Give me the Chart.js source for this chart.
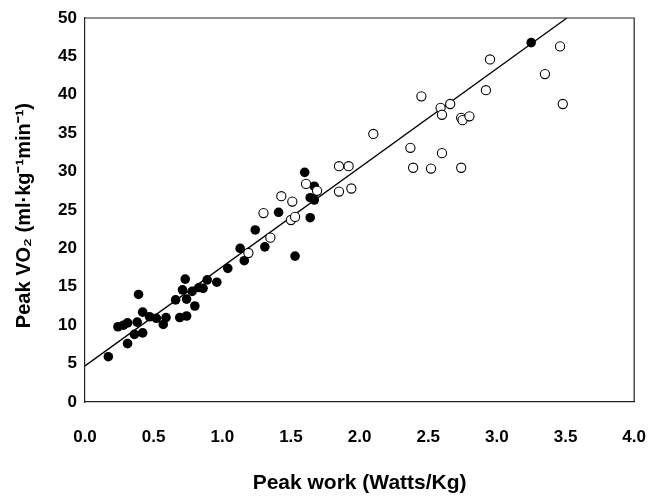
<!DOCTYPE html>
<html>
<head>
<meta charset="utf-8">
<script src="https://cdn.jsdelivr.net/npm/chart.js@4.4.1/dist/chart.umd.min.js"></script>
<style>
html,body{margin:0;padding:0;background:#fff;}
#wrap{width:665px;height:496px;}
</style>
</head>
<body>
<div id="wrap"><canvas id="c" width="665" height="496"></canvas></div>
<script>
const filledX = [0.17,0.24,0.28,0.31,0.31,0.36,0.38,0.39,0.42,0.42,0.47,0.52,0.57,0.59,0.66,0.69,0.74,0.73,0.71,0.74,0.78,0.80,0.83,0.86,0.89,0.96,1.04,1.13,1.16,1.24,1.31,1.53,1.41,1.60,1.67,1.64,1.67,1.64,3.25];
const filledY = [5.9,9.8,10.0,10.3,7.6,8.8,10.4,14.0,9.0,11.7,11.1,10.9,10.1,11.0,13.3,11.0,11.2,16.0,14.6,13.4,14.4,12.5,14.9,14.8,15.9,15.6,17.4,20.0,18.4,22.4,20.2,19.0,24.7,29.9,28.1,26.6,26.3,24.0,46.8];
const openX = [1.19,1.35,1.30,1.43,1.51,1.50,1.53,1.61,1.69,1.85,1.92,1.85,1.94,2.10,2.37,2.39,2.52,2.60,2.74,2.45,2.59,2.60,2.66,2.74,2.75,2.80,2.92,2.95,3.35,3.46,3.48];
const openY = [19.4,21.4,24.6,26.8,26.1,23.7,24.1,28.4,27.5,30.7,30.7,27.4,27.8,34.9,33.1,30.5,30.4,32.4,30.5,39.8,38.3,37.4,38.8,37.0,36.7,37.2,40.6,44.6,42.7,46.3,38.8];
const fitX = [0, 3.51];
const fitY = [4.7, 50];
const xTicks = [0,0.5,1.0,1.5,2.0,2.5,3.0,3.5,4.0];
const yTicks = [0,5,10,15,20,25,30,35,40,45,50];

const pts = (xs, ys) => xs.map((x, i) => ({x: x, y: ys[i]}));
const FONT = "'Liberation Sans', Arial, sans-serif";

const framePlugin = {
  id: 'frame',
  afterDatasetsDraw(chart) {
    const {ctx, chartArea: a} = chart;
    ctx.save();
    ctx.strokeStyle = '#222';
    ctx.lineWidth = 1.2;
    ctx.beginPath();
    ctx.moveTo(a.left, a.top); ctx.lineTo(a.right, a.top); ctx.lineTo(a.right, a.bottom);
    ctx.stroke();
    ctx.restore();
  }
};

new Chart(document.getElementById('c'), {
  type: 'scatter',
  data: {
    datasets: [
      {
        label: 'open',
        data: pts(openX, openY),
        pointRadius: 4.6,
        pointBackgroundColor: '#fff',
        pointBorderColor: '#000',
        pointBorderWidth: 1.1
      },
      {
        label: 'fit',
        type: 'line',
        data: pts(fitX, fitY),
        borderColor: '#000',
        borderWidth: 1.3,
        pointRadius: 0,
        fill: false
      },
      {
        label: 'filled',
        data: pts(filledX, filledY),
        pointRadius: 4.8,
        pointBackgroundColor: '#000',
        pointBorderColor: '#000',
        pointBorderWidth: 0
      }
    ]
  },
  options: {
    responsive: false,
    animation: false,
    layout: {padding: {left: 0, right: 27, top: 18, bottom: 0}},
    plugins: {legend: {display: false}, tooltip: {enabled: false}},
    scales: {
      x: {
        type: 'linear', min: 0, max: 4,
        afterBuildTicks: s => { s.ticks = xTicks.map(v => ({value: v})); },
        afterFit: s => { s.height = 94; },
        grid: {display: false, drawOnChartArea: false, drawTicks: true, tickLength: 6, tickColor: '#222'},
        border: {display: true, color: '#222', width: 1.2},
        ticks: {
          color: '#000', padding: 19,
          font: {family: FONT, size: 17, weight: 'bold'},
          callback: v => Number(v).toFixed(1)
        },
        title: {
          display: true, text: 'Peak work (Watts/Kg)', color: '#000',
          font: {family: FONT, size: 21, weight: 'bold'},
          padding: {top: 0, bottom: 0}
        }
      },
      y: {
        type: 'linear', min: 0, max: 50,
        afterBuildTicks: s => { s.ticks = yTicks.map(v => ({value: v})); },
        afterFit: s => { s.width = 85; },
        grid: {display: false, drawOnChartArea: false, drawTicks: true, tickLength: 5, tickColor: '#222'},
        border: {display: true, color: '#222', width: 1.2},
        ticks: {
          color: '#000', padding: 3,
          font: {family: FONT, size: 17, weight: 'bold'},
          callback: v => String(v)
        },
        title: {
          display: true, text: 'Peak VO\u2082 (ml\u00B7kg\u207B\u00B9min\u207B\u00B9)\u00A0\u00A0', color: '#000',
          font: {family: FONT, size: 20, weight: 'bold'},
          padding: {top: 12, bottom: 0}
        }
      }
    }
  },
  plugins: [framePlugin]
});
</script>
</body>
</html>
